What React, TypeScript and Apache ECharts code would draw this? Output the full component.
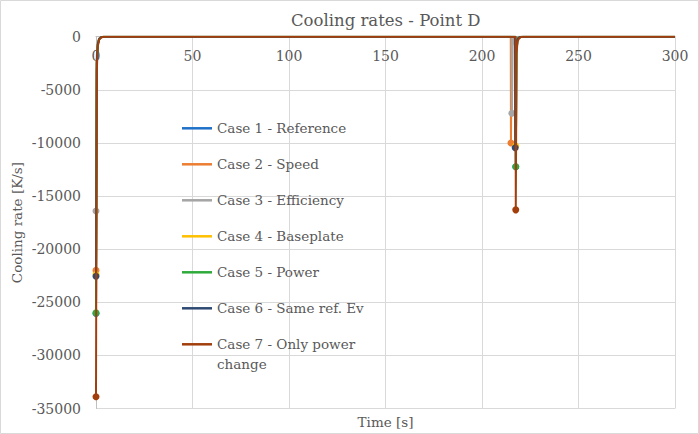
import React, { useEffect, useRef } from "react";
import * as echarts from "echarts";

// ---- data ----
const chartTitle = "Cooling rates - Point D";
const xAxisTitle = "Time [s]";
const yAxisTitle = "Cooling rate [K/s]";

const seriesNames = [
  "Case 1 - Reference",
  "Case 2 - Speed",
  "Case 3 - Efficiency",
  "Case 4 - Baseplate",
  "Case 5 - Power",
  "Case 6 - Same ref. Ev",
  "Case 7 - Only power change",
];

// [time s, cooling rate K/s]
const case1 = [[0, -26050], [0.4, -2600], [0.9, -780], [1.6, -240], [2.6, -60], [4, 0], [217.4, 0], [217.5, -12250], [217.9, -1250], [218.4, -400], [219.1, -120], [220.1, -30], [221.5, 0], [300, 0]];
const case2 = [[0, -22000], [0.4, -2300], [0.9, -700], [1.6, -210], [2.6, -50], [4, 0], [214.9, 0], [215.0, -10000], [215.4, -1100], [215.9, -350], [216.6, -110], [217.6, -25], [219, 0], [300, 0]];
const case3 = [[0, -16400], [0.4, -1800], [0.9, -550], [1.6, -170], [2.6, -40], [4, 0], [215.4, 0], [215.5, -7200], [215.9, -850], [216.4, -280], [217.1, -90], [218.1, -20], [219.5, 0], [300, 0]];
const case4 = [[0, -22400], [0.4, -2350], [0.9, -710], [1.6, -215], [2.6, -50], [4, 0], [217.3, 0], [217.4, -10300], [217.8, -1120], [218.3, -360], [219.0, -110], [220.0, -25], [221.4, 0], [300, 0]];
const case5 = [[0, -26000], [0.4, -2600], [0.9, -780], [1.6, -240], [2.6, -60], [4, 0], [217.4, 0], [217.5, -12250], [217.9, -1250], [218.4, -400], [219.1, -120], [220.1, -30], [221.5, 0], [300, 0]];
const case6 = [[0, -22550], [0.4, -2350], [0.9, -720], [1.6, -220], [2.6, -55], [4, 0], [217.1, 0], [217.2, -10450], [217.6, -1130], [218.1, -360], [218.8, -110], [219.8, -25], [221.2, 0], [300, 0]];
const case7 = [[0, -33900], [0.4, -3300], [0.9, -950], [1.6, -290], [2.6, -70], [4, 0], [217.4, 0], [217.5, -16300], [217.9, -1600], [218.4, -500], [219.1, -150], [220.1, -35], [221.5, 0], [300, 0]];

const seriesData = [case1, case2, case3, case4, case5, case6, case7];

const xMin = 0;
const xMax = 300;
const xStep = 50;
const yMin = -35000;
const yMax = 0;
const yStep = 5000;

// ---- styles ----
const seriesColors = ["#1E70C8", "#ED7D31", "#A5A5A5", "#FFC000", "#2EAA3A", "#2E4A72", "#A23E0C"];
const FONT = "DejaVu Serif";
const TEXT = "#595959";
const GRID = "#d9d9d9";
const FS = 13.5;
const FS_AXIS = 14;

function toItems(pts: number[][]) {
  const last = pts.length - 1;
  return pts.map((p, i) => {
    const v = p[1];
    const isMin =
      v < 0 &&
      (i === 0 || v < pts[i - 1][1]) &&
      (i === last || v < pts[i + 1][1]);
    return isMin
      ? { value: p, symbol: "circle", symbolSize: 7 }
      : { value: p, symbol: "none" };
  });
}

export default function App() {
  const ref = useRef<HTMLDivElement | null>(null);

  useEffect(() => {
    document.body.style.margin = "0";
    if (!ref.current) return;
    const chart = echarts.init(ref.current, undefined, { renderer: "svg" });

    const legendText = {
      color: TEXT,
      fontFamily: FONT,
      fontSize: FS,
      lineHeight: 20,
    };

    const option: any = {
      animation: false,
      backgroundColor: "#ffffff",
      textStyle: { fontFamily: FONT },
      title: {
        text: chartTitle,
        left: 291,
        top: 10,
        padding: 0,
        textStyle: { color: TEXT, fontFamily: FONT, fontSize: 16.5, fontWeight: "normal", lineHeight: 20 },
      },
      graphic: [
        {
          type: "rect",
          shape: { x: 0.5, y: 0.5, width: 698, height: 433 },
          style: { fill: "none", stroke: GRID, lineWidth: 1 },
          silent: true,
          z: -1,
        },
      ],
      legend: [
        {
          orient: "vertical",
          left: 182,
          top: 118.3,
          padding: 0,
          itemGap: 16,
          itemWidth: 30,
          itemHeight: 2.5,
          icon: "rect",
          selectedMode: false,
          textStyle: legendText,
          data: seriesNames.slice(0, 6),
        },
        {
          orient: "vertical",
          left: 182,
          top: 314.3,
          padding: 0,
          itemWidth: 30,
          itemHeight: 2.5,
          icon: "rect",
          selectedMode: false,
          textStyle: legendText,
          formatter: () => "\nCase 7 - Only power\nchange",
          data: seriesNames.slice(6),
        },
      ],
      grid: { left: 96, right: 24, top: 36.7, bottom: 25.5, containLabel: false, outerBoundsMode: "none" },
      xAxis: [
        {
          type: "value",
          position: "top",
          min: xMin,
          max: xMax,
          interval: xStep,
          axisLine: { show: true, lineStyle: { color: "#bfbfbf", width: 1 } },
          axisTick: { show: false },
          axisLabel: {
            inside: true,
            margin: 10.5,
            color: TEXT,
            fontFamily: FONT,
            fontSize: FS_AXIS,
            lineHeight: 17,
          },
          splitLine: { show: true, lineStyle: { color: GRID, width: 1 } },
        },
        {
          type: "value",
          position: "bottom",
          min: xMin,
          max: xMax,
          interval: xStep,
          name: xAxisTitle,
          nameLocation: "middle",
          nameGap: 5,
          nameTextStyle: { color: TEXT, fontFamily: FONT, fontSize: FS, lineHeight: 17 },
          axisLine: { show: false },
          axisTick: { show: false },
          axisLabel: { show: false },
          splitLine: { show: false },
        },
      ],
      yAxis: {
        type: "value",
        min: yMin,
        max: yMax,
        interval: yStep,
        name: yAxisTitle,
        nameLocation: "middle",
        nameRotate: 90,
        nameGap: 71,
        nameMoveOverlap: false,
        nameTextStyle: { color: TEXT, fontFamily: FONT, fontSize: FS, lineHeight: 17 },
        axisLine: { show: true, lineStyle: { color: "#bfbfbf", width: 1 } },
        axisTick: { show: false },
        axisLabel: {
          margin: 15,
          color: TEXT,
          fontFamily: FONT,
          fontSize: FS_AXIS,
          formatter: (v: number) => String(v),
        },
        splitLine: { show: true, lineStyle: { color: GRID, width: 1 } },
      },
      series: seriesData.map((pts, i) => ({
        name: seriesNames[i],
        type: "line",
        xAxisIndex: 0,
        yAxisIndex: 0,
        data: toItems(pts),
        showSymbol: true,
        showAllSymbol: true,
        symbol: "circle",
        symbolSize: 7,
        color: seriesColors[i],
        lineStyle: { color: seriesColors[i], width: 2 },
        itemStyle: { color: seriesColors[i] },
        emphasis: { disabled: true },
        z: 2 + i * 0.01,
      })),
    };

    chart.setOption(option);
    return () => {
      chart.dispose();
    };
  }, []);

  return <div ref={ref} style={{ width: 699, height: 434 }} />;
}
